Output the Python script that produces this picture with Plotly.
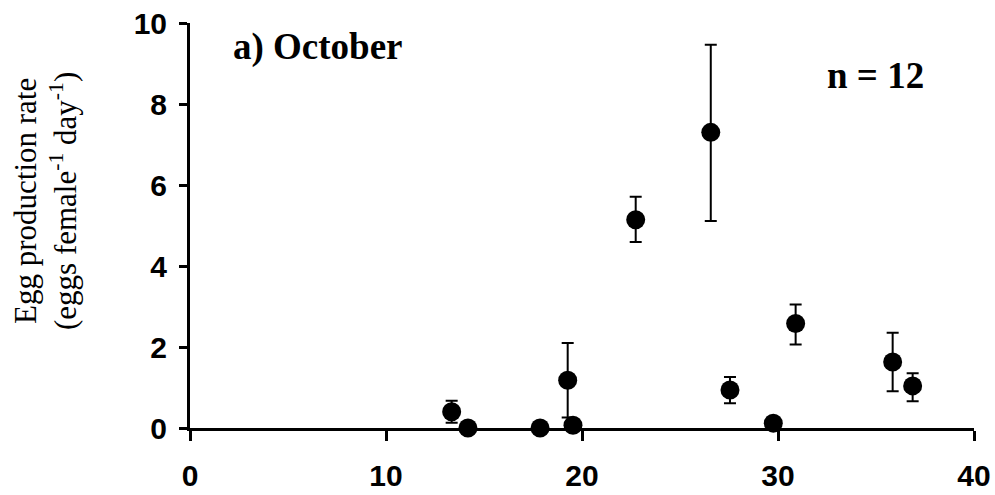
import plotly.graph_objects as go

# Data
temperature = [13.35, 14.18, 17.86, 19.27, 19.54, 22.74, 26.57, 27.55, 29.76, 30.90, 35.85, 36.87]
egg_rate = [0.40, 0.0, 0.0, 1.18, 0.07, 5.14, 7.30, 0.94, 0.12, 2.58, 1.63, 1.04]
err_plus = [0.27, 0.0, 0.0, 0.92, 0.0, 0.57, 2.16, 0.32, 0.0, 0.47, 0.72, 0.31]
err_minus = [0.27, 0.0, 0.0, 0.92, 0.0, 0.55, 2.19, 0.33, 0.0, 0.52, 0.72, 0.38]
x_ticks = [0, 10, 20, 30, 40]
y_ticks = [0, 2, 4, 6, 8, 10]

fig = go.Figure()
fig.add_trace(go.Scatter(
    x=temperature, y=egg_rate, mode="markers",
    marker=dict(color="black", size=19),
    error_y=dict(type="data", symmetric=False, array=err_plus, arrayminus=err_minus,
                 color="black", thickness=2, width=6),
    cliponaxis=False, showlegend=False,
))

tickfont = dict(family="Liberation Sans", size=30, color="black", weight="bold")
fig.update_xaxes(range=[0, 40], tickvals=x_ticks, showline=True, linecolor="black", linewidth=3,
                 ticks="outside", ticklen=10, tickwidth=3, tickcolor="black", automargin=False,
                 showgrid=False, zeroline=False, tickfont=tickfont, ticklabelstandoff=9)
fig.update_yaxes(range=[0, 10], tickvals=y_ticks, showline=True, linecolor="black", linewidth=3,
                 ticks="outside", ticklen=8, tickwidth=3, tickcolor="black", automargin=False,
                 showgrid=False, zeroline=False, tickfont=tickfont, ticklabelstandoff=6)

fig.add_annotation(text="<b>a) October</b>", xref="paper", yref="paper", x=(318 - 190) / 784,
                   y=(428 - 47) / 405, showarrow=False, xanchor="center", yanchor="middle",
                   font=dict(family="Liberation Serif", size=37, color="black"))
fig.add_annotation(text="<b>n = 12</b>", xref="paper", yref="paper", x=(875 - 190) / 784,
                   y=(428 - 75) / 405, showarrow=False, xanchor="center", yanchor="middle",
                   font=dict(family="Liberation Serif", size=37, color="black"))
fig.add_annotation(text="Egg production rate<br>(eggs female<sup>-1</sup> day<sup>-1</sup>)",
                   xref="paper", yref="paper", x=(45 - 190) / 784, y=(428 - 201) / 405,
                   textangle=-90, showarrow=False, xanchor="center", yanchor="middle",
                   font=dict(family="Liberation Serif", size=31, color="black"))

fig.update_layout(width=995, height=495, margin=dict(l=190, r=21, t=23, b=67),
                  paper_bgcolor="white", plot_bgcolor="white")
fig.write_html("out.html")
